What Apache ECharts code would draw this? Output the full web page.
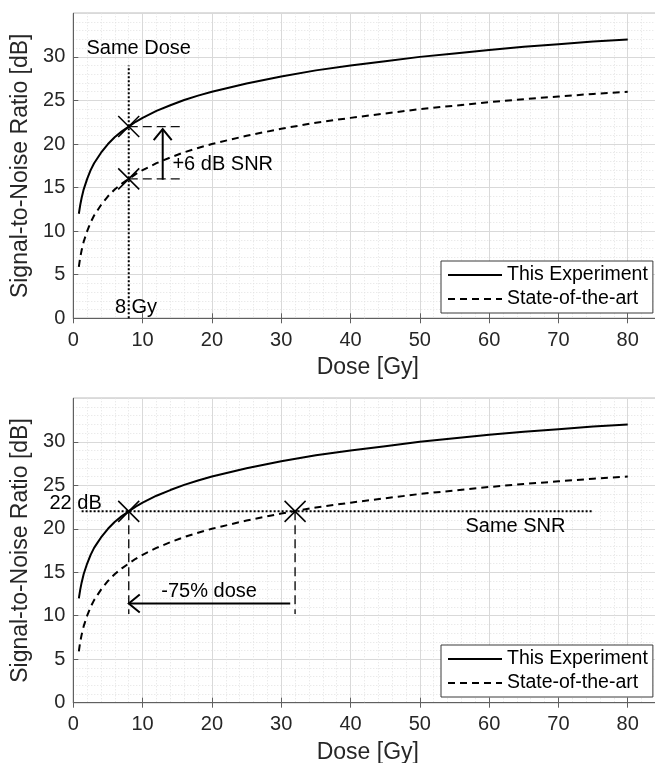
<!DOCTYPE html>
<html>
<head>
<meta charset="utf-8">
<script src="https://cdn.jsdelivr.net/npm/echarts@6/dist/echarts.min.js"></script>
<style>
  html, body { margin: 0; padding: 0; background: #fff; }
  #chart { width: 655px; height: 763px; }
</style>
</head>
<body>
<div id="chart"></div>
<script>
// Dose samples (Gy) and SNR (dB) of both systems
const doseGy = [0.8, 1, 1.2, 1.5, 2, 2.5, 3, 3.5, 4, 5, 6, 7, 8, 9, 10, 12, 14, 16, 18, 20, 25, 30, 35, 40, 45, 50, 55, 60, 65, 70, 75, 80];
const snrThisExperiment = [12.0, 13.0, 13.8, 14.8, 16.0, 17.0, 17.8, 18.4, 19.0, 20.0, 20.8, 21.45, 22.0, 22.55, 23.0, 23.8, 24.45, 25.05, 25.55, 26.0, 26.95, 27.75, 28.45, 29.0, 29.5, 30.0, 30.4, 30.8, 31.15, 31.45, 31.75, 32.0];
const snrStateOfTheArt = [5.9, 7.0, 7.8, 8.8, 10.0, 11.0, 11.8, 12.4, 13.0, 14.0, 14.8, 15.45, 16.0, 16.55, 17.0, 17.8, 18.45, 19.05, 19.55, 20.0, 20.95, 21.75, 22.45, 23.0, 23.5, 24.0, 24.4, 24.8, 25.15, 25.45, 25.75, 26.0];
const seriesNames = ['This Experiment', 'State-of-the-art'];

// Axis ranges
const doseRange = [0, 85];
const doseStep = 10;
const snrRange = [0, 35];
const snrStep = 5;

// Upper panel: gain at the same dose (8 Gy)
const upperMarkers = [[8, 22], [8, 16]];
const upperDotted = [[8, 0, 8, 29]];
const upperDashed = [[8, 22, 15.5, 22], [8, 16, 15.5, 16]];
const upperArrows = [[12.9, 15.9, 12.9, 21.7]];
const upperTexts = ['Same Dose', '8 Gy', '+6 dB SNR'];
const upperTextAnchors = [[1.9, 31.0, 'left'], [6.0, 1.2, 'left'], [14.3, 17.6, 'left']];

// Lower panel: dose reduction at the same SNR (22 dB)
const lowerMarkers = [[8, 22], [32, 22]];
const lowerDotted = [[1.2, 22, 75, 22]];
const lowerDashed = [[8, 22, 8, 10.2], [32, 22, 32, 10.2]];
const lowerArrows = [[31.3, 11.4, 8, 11.4]];
const lowerTexts = ['22 dB', '-75% dose', 'Same SNR'];
const lowerTextAnchors = [[4.1, 22.85, 'right'], [19.6, 12.8, 'center'], [63.8, 20.3, 'center']];

const fontFamily = '"Liberation Sans", Arial, Helvetica, sans-serif';
const textColor = '#262626';
const lineColor = '#606060';

const pairs = (xs, ys) => xs.map((x, i) => [x, ys[i]]);

function xAxes(g) {
  const base = { type: 'value', gridIndex: g, min: doseRange[0], max: doseRange[1], interval: doseStep };
  return [
    Object.assign({}, base, {
      position: 'bottom',
      name: 'Dose [Gy]', nameLocation: 'middle', nameGap: 38,
      nameTextStyle: { fontSize: 23, color: textColor, fontFamily },
      axisLine: { show: true, onZero: false, lineStyle: { color: lineColor, width: 1 } },
      axisTick: { show: true, inside: true, length: 5, lineStyle: { color: lineColor } },
      axisLabel: { fontSize: 20, color: textColor, fontFamily, margin: 12, showMaxLabel: false },
      splitLine: { show: true, lineStyle: { color: '#d9d9d9', width: 1 } },
      minorTick: { show: false, splitNumber: 5 },
      minorSplitLine: { show: true, lineStyle: { color: '#e2e2e2', width: 1, type: [1, 2] } }
    }),
    Object.assign({}, base, {
      position: 'top',
      axisLine: { show: false },
      axisTick: { show: true, inside: true, length: 5, lineStyle: { color: lineColor } },
      axisLabel: { show: false },
      splitLine: { show: false }
    })
  ];
}

function yAxis(g) {
  return {
    type: 'value', gridIndex: g, position: 'left',
    min: snrRange[0], max: snrRange[1], interval: snrStep,
    name: 'Signal-to-Noise Ratio [dB]', nameLocation: 'middle', nameGap: 37,
    nameTextStyle: { fontSize: 23, color: textColor, fontFamily },
    axisLine: { show: true, onZero: false, lineStyle: { color: lineColor, width: 1 } },
    axisTick: { show: true, inside: true, length: 5, lineStyle: { color: lineColor } },
    axisLabel: { fontSize: 20, color: textColor, fontFamily, margin: 8, showMaxLabel: false },
    splitLine: { show: true, lineStyle: { color: '#d9d9d9', width: 1 } },
    minorTick: { show: false, splitNumber: 5 },
    minorSplitLine: { show: true, lineStyle: { color: '#e2e2e2', width: 1, type: [1, 2] } }
  };
}

function curveSeries(g) {
  const common = {
    type: 'line', xAxisIndex: g * 2, yAxisIndex: g,
    symbol: 'none', showSymbol: false, smooth: false,
    silent: true, z: 3, animation: false
  };
  return [
    Object.assign({}, common, {
      name: seriesNames[0], data: pairs(doseGy, snrThisExperiment),
      lineStyle: { color: '#000', width: 2, type: 'solid' }, itemStyle: { color: '#000' }
    }),
    Object.assign({}, common, {
      name: seriesNames[1], data: pairs(doseGy, snrStateOfTheArt),
      lineStyle: { color: '#000', width: 2, type: [7, 5] }, itemStyle: { color: '#000' }
    })
  ];
}

// Straight guide segments [x1, y1, x2, y2]
function segmentSeries(g, segs, style) {
  return {
    type: 'custom', xAxisIndex: g * 2, yAxisIndex: g, silent: true, z: 4, animation: false,
    data: segs, encode: { x: [0, 2], y: [1, 3] },
    renderItem(params, api) {
      const a = api.coord([api.value(0), api.value(1)]);
      const b = api.coord([api.value(2), api.value(3)]);
      return { type: 'line', shape: { x1: a[0], y1: a[1], x2: b[0], y2: b[1] }, style: Object.assign({ fill: null }, style) };
    }
  };
}

// Arrows with an open head at the second point
function arrowSeries(g, arrows) {
  return {
    type: 'custom', xAxisIndex: g * 2, yAxisIndex: g, silent: true, z: 5, animation: false,
    data: arrows, encode: { x: [0, 2], y: [1, 3] },
    renderItem(params, api) {
      const a = api.coord([api.value(0), api.value(1)]);
      const b = api.coord([api.value(2), api.value(3)]);
      const dx = b[0] - a[0], dy = b[1] - a[1];
      const len = Math.hypot(dx, dy);
      const ux = dx / len, uy = dy / len;
      const nx = -uy, ny = ux;
      const L = 11, W = 9;
      const st = { stroke: '#000', lineWidth: 2, fill: null };
      return {
        type: 'group', children: [
          { type: 'line', shape: { x1: a[0], y1: a[1], x2: b[0], y2: b[1] }, style: st },
          { type: 'polyline', shape: { points: [
            [b[0] - ux * L + nx * W, b[1] - uy * L + ny * W],
            [b[0], b[1]],
            [b[0] - ux * L - nx * W, b[1] - uy * L - ny * W]
          ] }, style: st }
        ]
      };
    }
  };
}

// Cross markers at the compared operating points
function crossSeries(g, pts) {
  return {
    type: 'custom', xAxisIndex: g * 2, yAxisIndex: g, silent: true, z: 6, animation: false,
    data: pts,
    renderItem(params, api) {
      const p = api.coord([api.value(0), api.value(1)]);
      const r = 10.5;
      const st = { stroke: '#000', lineWidth: 1.5, fill: null };
      return {
        type: 'group', children: [
          { type: 'line', shape: { x1: p[0] - r, y1: p[1] - r, x2: p[0] + r, y2: p[1] + r }, style: st },
          { type: 'line', shape: { x1: p[0] - r, y1: p[1] + r, x2: p[0] + r, y2: p[1] - r }, style: st }
        ]
      };
    }
  };
}

function textSeries(g, texts, anchors) {
  return {
    type: 'custom', xAxisIndex: g * 2, yAxisIndex: g, silent: true, z: 7, animation: false,
    data: anchors.map(a => [a[0], a[1]]),
    renderItem(params, api) {
      const p = api.coord([api.value(0), api.value(1)]);
      return {
        type: 'text', x: p[0], y: p[1],
        style: {
          text: texts[params.dataIndex], fill: '#000',
          font: '20px ' + fontFamily,
          align: anchors[params.dataIndex][2], verticalAlign: 'middle'
        }
      };
    }
  };
}

const dottedStyle = { stroke: '#000', lineWidth: 2, lineDash: [2, 2] };
const dashedStyle = { stroke: '#111', lineWidth: 1.4, lineDash: [9, 5] };

function legendFor(top) {
  return {
    data: seriesNames, orient: 'vertical', left: 441, top: top,
    itemWidth: 54, itemHeight: 20, itemGap: 4, padding: [4, 5, 4, 6],
    backgroundColor: '#fff', borderColor: '#3a3a3a', borderWidth: 1, borderRadius: 0,
    itemStyle: { opacity: 0 },
    textStyle: { fontSize: 19.5, color: '#000', fontFamily },
    selectedMode: false
  };
}

const option = {
  backgroundColor: '#fff',
  animation: false,
  grid: [
    { left: 73.3, right: -7.4, top: 13.3, bottom: 444.7, show: true, borderColor: lineColor, borderWidth: 1, backgroundColor: 'transparent', outerBoundsMode: 'none' },
    { left: 73.3, right: -7.4, top: 398.3, bottom: 60.3, show: true, borderColor: lineColor, borderWidth: 1, backgroundColor: 'transparent', outerBoundsMode: 'none' }
  ],
  xAxis: [...xAxes(0), ...xAxes(1)],
  yAxis: [yAxis(0), yAxis(1)],
  legend: [legendFor(261), legendFor(645)],
  series: [
    ...curveSeries(0),
    segmentSeries(0, upperDotted, dottedStyle),
    segmentSeries(0, upperDashed, dashedStyle),
    arrowSeries(0, upperArrows),
    crossSeries(0, upperMarkers),
    textSeries(0, upperTexts, upperTextAnchors),
    ...curveSeries(1),
    segmentSeries(1, lowerDotted, dottedStyle),
    segmentSeries(1, lowerDashed, dashedStyle),
    arrowSeries(1, lowerArrows),
    crossSeries(1, lowerMarkers),
    textSeries(1, lowerTexts, lowerTextAnchors)
  ]
};

const chart = echarts.init(document.getElementById('chart'), null, { renderer: 'canvas' });
chart.setOption(option);
</script>
</body>
</html>
